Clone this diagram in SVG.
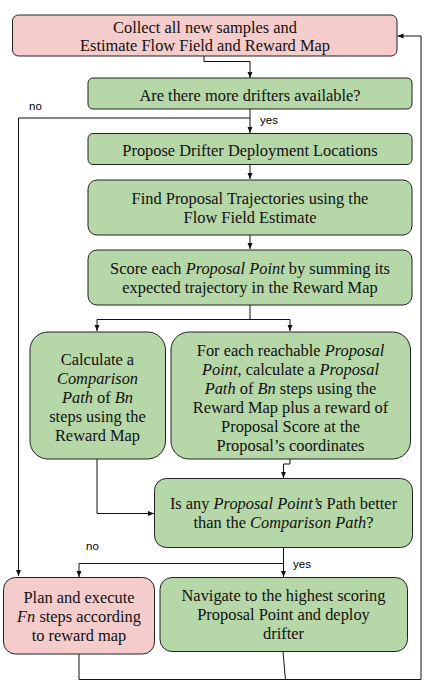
<svg xmlns="http://www.w3.org/2000/svg" width="432" height="688" viewBox="0 0 432 688">
<style>
.pink{fill:#f4cccc;stroke:#222;stroke-width:1}
.green{fill:#b6d7a8;stroke:#222;stroke-width:1}
.t{font-family:"Liberation Serif","Times New Roman",serif;font-size:16.4px;fill:#111;text-anchor:middle}
.i{font-style:italic}
.lbl{font-family:"Liberation Sans",Arial,sans-serif;font-size:11.5px;fill:#000}
.c{fill:none;stroke:#111;stroke-width:1}
</style>
<defs>
<marker id="ah" viewBox="0 0 6 6" refX="6" refY="3" markerWidth="6" markerHeight="6" orient="auto" markerUnits="userSpaceOnUse">
<path d="M0,0.5 L6,3 L0,5.5 z" fill="#111"/>
</marker>
</defs>
<rect width="432" height="688" fill="#fff"/>
<g id="connectors">
<path class="c" d="M204,56 V61.5 H250 V78" marker-end="url(#ah)"/>
<path class="c" d="M250,109 V133" marker-end="url(#ah)"/>
<path class="c" d="M250,118 H18.5 V576" marker-end="url(#ah)"/>
<path class="c" d="M250,164 V179" marker-end="url(#ah)"/>
<path class="c" d="M250,235 V249" marker-end="url(#ah)"/>
<path class="c" d="M250,305 V319.5 H97 V331" marker-end="url(#ah)"/>
<path class="c" d="M250,319.5 H290 V331" marker-end="url(#ah)"/>
<path class="c" d="M290,459 V464 H283.5 V478" marker-end="url(#ah)"/>
<path class="c" d="M97,459 V513.5 H154" marker-end="url(#ah)"/>
<path class="c" d="M283.5,547 V577" marker-end="url(#ah)"/>
<path class="c" d="M283.5,563.5 H79 V577" marker-end="url(#ah)"/>
<path class="c" d="M79,654 V679.5 H421 V36 H397.5" marker-end="url(#ah)"/>
<path class="c" d="M283,652 L285.5,680"/>
<text class="lbl" x="29" y="110">no</text>
<text class="lbl" x="260" y="124">yes</text>
<text class="lbl" x="86" y="550">no</text>
<text class="lbl" x="293" y="568">yes</text>
</g>
<g id="n1">
<rect class="pink" x="12.5" y="15" width="384.5" height="41" rx="6"/>
<text class="t" x="205" y="32.5">Collect all new samples and</text>
<text class="t" x="205" y="51">Estimate Flow Field and Reward Map</text>
</g>
<g id="n2">
<rect class="green" x="88" y="78" width="324" height="31" rx="5"/>
<text class="t" x="250" y="100.5">Are there more drifters available?</text>
</g>
<g id="n3">
<rect class="green" x="88" y="133.5" width="324" height="31" rx="5"/>
<text class="t" x="250" y="155.5">Propose Drifter Deployment Locations</text>
</g>
<g id="n4">
<rect class="green" x="88" y="180" width="324" height="55" rx="9"/>
<text class="t" x="250" y="203.5">Find Proposal Trajectories using the</text>
<text class="t" x="250" y="222.5">Flow Field Estimate</text>
</g>
<g id="n5">
<rect class="green" x="88" y="250" width="324" height="55" rx="9"/>
<text class="t" x="250" y="274">Score each <tspan class="i">Proposal Point</tspan> by summing its</text>
<text class="t" x="250" y="293">expected trajectory in the Reward Map</text>
</g>
<g id="n6">
<rect class="green" x="30" y="332" width="135.5" height="127" rx="18"/>
<text class="t" x="97.5" y="364.5">Calculate a</text>
<text class="t i" x="97.5" y="383.5">Comparison</text>
<text class="t" x="97.5" y="402.5"><tspan class="i">Path</tspan> of <tspan class="i">Bn</tspan></text>
<text class="t" x="97.5" y="421.5">steps using the</text>
<text class="t" x="97.5" y="440.5">Reward Map</text>
</g>
<g id="n7">
<rect class="green" x="171" y="332" width="239.5" height="127" rx="18"/>
<text class="t" x="290.5" y="355.5">For each reachable <tspan class="i">Proposal</tspan></text>
<text class="t" x="290.5" y="374.5"><tspan class="i">Point</tspan>, calculate a <tspan class="i">Proposal</tspan></text>
<text class="t" x="290.5" y="393.5"><tspan class="i">Path</tspan> of <tspan class="i">Bn</tspan> steps using the</text>
<text class="t" x="290.5" y="412.5">Reward Map plus a reward of</text>
<text class="t" x="290.5" y="431.5">Proposal Score at the</text>
<text class="t" x="290.5" y="450.5">Proposal’s coordinates</text>
</g>
<g id="n8">
<rect class="green" x="154.5" y="478.5" width="258" height="69" rx="12"/>
<text class="t" x="283.5" y="509">Is any <tspan class="i">Proposal Point’s</tspan> Path better</text>
<text class="t" x="283.5" y="528">than the <tspan class="i">Comparison Path</tspan>?</text>
</g>
<g id="n9">
<rect class="pink" x="3.5" y="577.5" width="151" height="76.5" rx="12"/>
<text class="t" x="79" y="603">Plan and execute</text>
<text class="t" x="79" y="622"><tspan class="i">Fn</tspan> steps according</text>
<text class="t" x="79" y="641">to reward map</text>
</g>
<g id="n10">
<rect class="green" x="160" y="577.5" width="247.5" height="74" rx="12"/>
<text class="t" x="283.5" y="601">Navigate to the highest scoring</text>
<text class="t" x="283.5" y="620">Proposal Point and deploy</text>
<text class="t" x="283.5" y="639">drifter</text>
</g>
</svg>
